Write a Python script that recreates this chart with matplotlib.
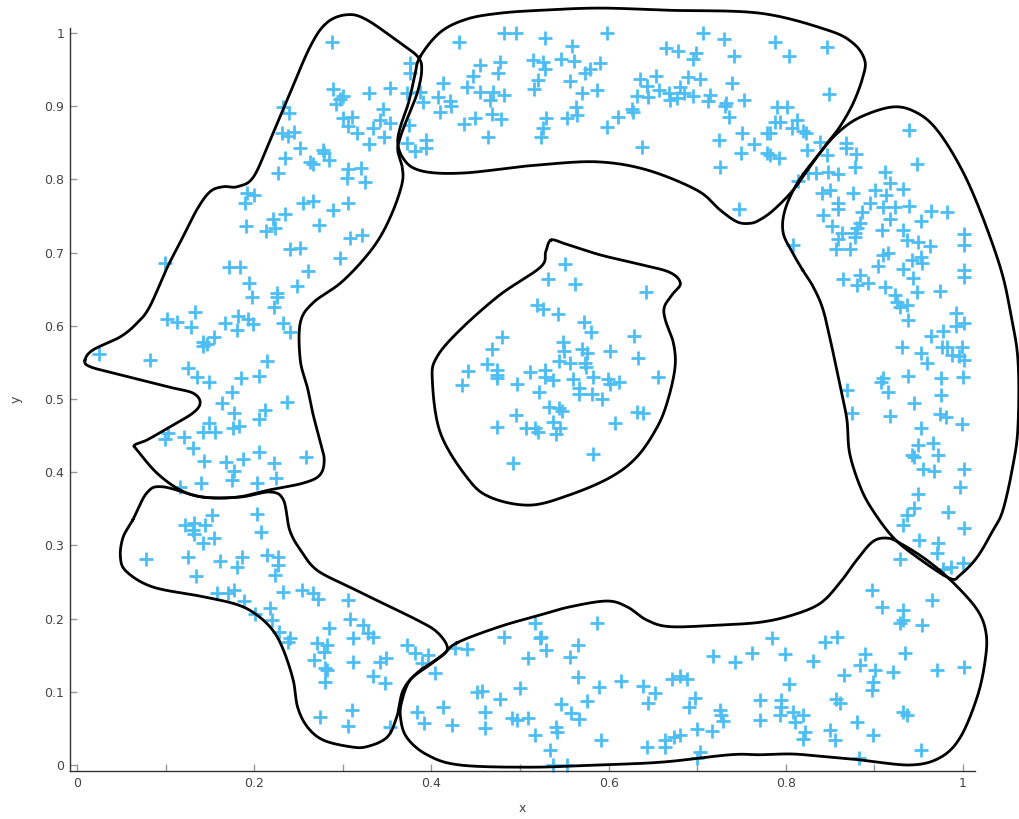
import numpy as np
import matplotlib
matplotlib.use("Agg")
import matplotlib.pyplot as plt

# ---- scatter points (data units) ----
pts_nw = [
    (0.233, 0.899), (0.239, 0.891), (0.231, 0.863), (0.238, 0.859), (0.245, 0.865),
    (0.252, 0.843), (0.235, 0.829), (0.227, 0.809), (0.192, 0.781), (0.200, 0.779),
    (0.190, 0.768), (0.221, 0.746), (0.235, 0.753), (0.223, 0.734), (0.213, 0.730),
    (0.191, 0.736), (0.255, 0.768), (0.240, 0.705), (0.252, 0.706), (0.099, 0.686),
    (0.172, 0.680), (0.184, 0.680), (0.263, 0.824), (0.288, 0.988), (0.376, 0.959),
    (0.376, 0.945), (0.289, 0.923), (0.300, 0.914), (0.297, 0.910), (0.292, 0.903),
    (0.330, 0.918), (0.353, 0.925), (0.345, 0.896), (0.300, 0.884), (0.310, 0.885),
    (0.306, 0.873), (0.342, 0.881), (0.334, 0.870), (0.353, 0.877), (0.316, 0.863),
    (0.347, 0.858), (0.330, 0.848), (0.375, 0.874), (0.372, 0.850), (0.381, 0.839),
    (0.394, 0.854), (0.394, 0.843), (0.278, 0.840), (0.279, 0.836), (0.284, 0.826),
    (0.266, 0.821), (0.306, 0.814), (0.321, 0.816), (0.305, 0.802), (0.325, 0.796),
    (0.266, 0.770), (0.306, 0.768), (0.289, 0.758), (0.273, 0.738), (0.308, 0.720),
    (0.322, 0.724), (0.297, 0.693), (0.372, 0.918),
]
pts_w = [
    (0.194, 0.658), (0.198, 0.639), (0.226, 0.645), (0.226, 0.639), (0.222, 0.626),
    (0.248, 0.654), (0.261, 0.675), (0.133, 0.619), (0.102, 0.609), (0.113, 0.605),
    (0.129, 0.598), (0.167, 0.604), (0.182, 0.613), (0.193, 0.609), (0.199, 0.602),
    (0.181, 0.594), (0.155, 0.585), (0.142, 0.578), (0.142, 0.572), (0.147, 0.575),
    (0.233, 0.604), (0.240, 0.592), (0.025, 0.561), (0.082, 0.553), (0.125, 0.542),
    (0.135, 0.530), (0.149, 0.523), (0.185, 0.529), (0.205, 0.531), (0.214, 0.552),
    (0.175, 0.510), (0.164, 0.495), (0.177, 0.481), (0.237, 0.496), (0.212, 0.485),
    (0.205, 0.473), (0.149, 0.467), (0.142, 0.455), (0.156, 0.455), (0.176, 0.460),
    (0.183, 0.463), (0.103, 0.454), (0.099, 0.445), (0.121, 0.448), (0.131, 0.433),
    (0.143, 0.415), (0.168, 0.414), (0.177, 0.402), (0.175, 0.389), (0.187, 0.418),
    (0.205, 0.428), (0.222, 0.413), (0.225, 0.392), (0.203, 0.385), (0.140, 0.385),
    (0.116, 0.380), (0.258, 0.421),
]
pts_n = [
    (0.431, 0.988), (0.482, 1.000), (0.496, 1.000), (0.455, 0.956), (0.447, 0.941),
    (0.440, 0.926), (0.477, 0.960), (0.475, 0.945), (0.413, 0.932), (0.387, 0.919),
    (0.391, 0.906), (0.407, 0.913), (0.421, 0.907), (0.422, 0.900), (0.410, 0.892),
    (0.455, 0.919), (0.470, 0.919), (0.466, 0.908), (0.482, 0.915), (0.468, 0.889),
    (0.479, 0.882), (0.449, 0.884), (0.437, 0.876), (0.464, 0.858),
    (0.528, 0.993), (0.598, 1.000), (0.559, 0.982), (0.707, 1.000), (0.730, 0.992),
    (0.515, 0.963), (0.526, 0.960), (0.528, 0.951), (0.546, 0.964), (0.561, 0.962),
    (0.573, 0.945), (0.579, 0.951), (0.590, 0.959), (0.520, 0.936), (0.516, 0.923),
    (0.556, 0.934), (0.570, 0.918), (0.587, 0.922), (0.665, 0.979), (0.678, 0.975),
    (0.699, 0.973), (0.695, 0.964), (0.742, 0.969), (0.635, 0.937), (0.643, 0.928),
    (0.654, 0.941), (0.632, 0.914), (0.645, 0.913), (0.657, 0.922), (0.668, 0.918),
    (0.669, 0.908), (0.677, 0.911), (0.681, 0.926), (0.685, 0.918), (0.695, 0.914),
    (0.690, 0.940), (0.703, 0.937), (0.714, 0.915), (0.712, 0.907), (0.733, 0.904),
    (0.731, 0.900), (0.739, 0.932), (0.753, 0.908), (0.736, 0.885), (0.626, 0.896),
    (0.628, 0.892), (0.611, 0.885), (0.598, 0.872), (0.563, 0.899), (0.564, 0.888),
    (0.553, 0.884), (0.529, 0.884), (0.526, 0.870), (0.524, 0.858), (0.638, 0.844),
    (0.725, 0.854), (0.726, 0.817), (0.751, 0.863), (0.764, 0.848), (0.749, 0.836),
    (0.747, 0.760),
]
pts_ne = [
    (0.788, 0.988), (0.804, 0.969), (0.847, 0.981), (0.849, 0.917), (0.790, 0.899),
    (0.801, 0.899), (0.788, 0.878), (0.793, 0.878), (0.813, 0.881), (0.807, 0.870),
    (0.779, 0.863), (0.782, 0.863), (0.819, 0.866), (0.823, 0.863), (0.779, 0.836),
    (0.782, 0.833), (0.792, 0.829), (0.824, 0.840), (0.839, 0.851), (0.847, 0.833),
    (0.868, 0.850), (0.868, 0.843), (0.879, 0.835), (0.878, 0.817), (0.848, 0.810),
    (0.859, 0.807), (0.825, 0.809), (0.814, 0.798), (0.834, 0.809), (0.912, 0.810),
    (0.918, 0.795), (0.939, 0.867), (0.948, 0.821), (0.841, 0.781), (0.850, 0.785),
    (0.876, 0.781), (0.901, 0.785), (0.913, 0.779), (0.932, 0.787), (0.859, 0.768),
    (0.859, 0.760), (0.895, 0.768), (0.886, 0.755), (0.884, 0.740), (0.880, 0.734),
    (0.910, 0.762), (0.923, 0.762), (0.939, 0.764), (0.964, 0.757), (0.982, 0.755),
    (0.842, 0.751), (0.918, 0.746), (0.952, 0.743), (0.852, 0.736), (0.863, 0.727),
    (0.859, 0.719), (0.878, 0.727), (0.878, 0.721), (0.909, 0.731), (0.932, 0.731),
    (0.937, 0.717), (0.949, 0.714), (0.963, 0.709), (1.001, 0.725), (1.001, 0.710),
    (0.808, 0.710), (0.857, 0.705), (0.872, 0.705), (0.910, 0.697), (0.915, 0.699),
    (0.952, 0.694), (0.942, 0.690), (0.954, 0.686), (0.904, 0.682),
]
pts_e = [
    (0.865, 0.664), (0.884, 0.669), (0.880, 0.656), (0.893, 0.658), (0.932, 0.678),
    (0.944, 0.665), (1.001, 0.676), (1.001, 0.667), (0.912, 0.653), (0.948, 0.646),
    (0.974, 0.648), (0.923, 0.642), (0.926, 0.633), (0.929, 0.626), (0.937, 0.628),
    (0.938, 0.608), (0.992, 0.617), (0.992, 0.600), (1.001, 0.604), (0.977, 0.593),
    (0.964, 0.586), (0.931, 0.571), (0.952, 0.563), (0.959, 0.549), (0.976, 0.571),
    (0.982, 0.571), (0.988, 0.560), (0.999, 0.571), (0.996, 0.559), (1.001, 0.553),
    (0.938, 0.531), (0.975, 0.529), (1.000, 0.530), (0.910, 0.529), (0.907, 0.523),
    (0.915, 0.510), (0.869, 0.512), (0.975, 0.505), (0.945, 0.495), (0.875, 0.481),
    (0.918, 0.477), (0.974, 0.480), (0.981, 0.475), (0.999, 0.466), (0.952, 0.460),
    (0.966, 0.440), (0.949, 0.437), (0.942, 0.423), (0.945, 0.421), (0.972, 0.423),
    (0.955, 0.404), (0.967, 0.402), (1.001, 0.404), (0.997, 0.380), (0.949, 0.370),
    (0.945, 0.351), (0.937, 0.342), (0.983, 0.346), (1.001, 0.324), (0.932, 0.328),
    (0.950, 0.307), (0.972, 0.303), (0.971, 0.290), (0.929, 0.281), (1.000, 0.276),
    (0.986, 0.270), (0.977, 0.268),
]
pts_se = [
    (0.771, 0.089), (0.771, 0.061), (0.784, 0.173), (0.799, 0.152), (0.804, 0.111),
    (0.795, 0.089), (0.795, 0.079), (0.793, 0.068), (0.808, 0.072), (0.810, 0.059),
    (0.819, 0.068), (0.822, 0.045), (0.819, 0.036), (0.831, 0.142), (0.844, 0.168),
    (0.858, 0.175), (0.857, 0.090), (0.861, 0.085), (0.850, 0.048), (0.855, 0.034),
    (0.866, 0.123), (0.880, 0.059), (0.883, 0.010), (0.884, 0.137), (0.889, 0.152),
    (0.901, 0.130), (0.898, 0.113), (0.897, 0.102), (0.898, 0.041), (0.921, 0.127),
    (0.935, 0.153), (0.897, 0.239), (0.909, 0.216), (0.932, 0.212), (0.932, 0.198),
    (0.929, 0.194), (0.954, 0.191), (0.965, 0.225), (0.932, 0.072), (0.937, 0.068),
    (0.952, 0.020), (0.971, 0.130), (1.001, 0.134),
]
pts_s = [
    (0.587, 0.194), (0.524, 0.175), (0.529, 0.157), (0.565, 0.164), (0.556, 0.148),
    (0.565, 0.120), (0.589, 0.107), (0.614, 0.115), (0.639, 0.108), (0.652, 0.098),
    (0.644, 0.085), (0.672, 0.117), (0.680, 0.121), (0.688, 0.118), (0.718, 0.149),
    (0.743, 0.141), (0.762, 0.153), (0.546, 0.083), (0.576, 0.087), (0.558, 0.071),
    (0.567, 0.063), (0.541, 0.052), (0.542, 0.045), (0.534, 0.020), (0.537, 0.000),
    (0.553, 0.000), (0.591, 0.034), (0.698, 0.092), (0.691, 0.079), (0.726, 0.075),
    (0.727, 0.068), (0.729, 0.060), (0.717, 0.046), (0.700, 0.049), (0.681, 0.041),
    (0.674, 0.038), (0.664, 0.034), (0.664, 0.025), (0.643, 0.025), (0.703, 0.018),
    (0.700, 0.010),
    (0.427, 0.160), (0.440, 0.158), (0.482, 0.175), (0.517, 0.194), (0.509, 0.146),
    (0.451, 0.100), (0.457, 0.101), (0.500, 0.105), (0.477, 0.090), (0.460, 0.072),
    (0.460, 0.051), (0.491, 0.064), (0.497, 0.061), (0.509, 0.064), (0.517, 0.041),
    (0.523, 0.173), (0.413, 0.079), (0.423, 0.055), (0.384, 0.072), (0.392, 0.057),
]
pts_sw = [
    (0.254, 0.239), (0.266, 0.235), (0.272, 0.227), (0.306, 0.225), (0.284, 0.187),
    (0.308, 0.199), (0.323, 0.191), (0.328, 0.180), (0.334, 0.175), (0.312, 0.173),
    (0.271, 0.167), (0.282, 0.164), (0.279, 0.154), (0.268, 0.143), (0.280, 0.133),
    (0.282, 0.130), (0.312, 0.141), (0.342, 0.141), (0.349, 0.146), (0.280, 0.113),
    (0.334, 0.122), (0.348, 0.112), (0.372, 0.164), (0.381, 0.153), (0.396, 0.150),
    (0.389, 0.139), (0.404, 0.126), (0.310, 0.075), (0.274, 0.066), (0.306, 0.053),
    (0.353, 0.052),
    (0.152, 0.342), (0.203, 0.343), (0.122, 0.328), (0.132, 0.331), (0.144, 0.328),
    (0.131, 0.321), (0.132, 0.316), (0.155, 0.310), (0.142, 0.303), (0.208, 0.318),
    (0.078, 0.281), (0.125, 0.284), (0.161, 0.279), (0.186, 0.284), (0.181, 0.270),
    (0.214, 0.287), (0.227, 0.284), (0.227, 0.273), (0.223, 0.260), (0.134, 0.258),
    (0.158, 0.235), (0.170, 0.235), (0.177, 0.239), (0.188, 0.224), (0.218, 0.214),
    (0.220, 0.198), (0.201, 0.206), (0.233, 0.236), (0.228, 0.182), (0.238, 0.168),
    (0.240, 0.173),
]
pts_center = [
    (0.480, 0.585), (0.468, 0.568), (0.463, 0.548), (0.441, 0.538), (0.435, 0.519),
    (0.474, 0.540), (0.474, 0.533), (0.474, 0.529), (0.511, 0.537), (0.497, 0.520),
    (0.521, 0.510), (0.495, 0.478), (0.474, 0.462), (0.507, 0.460), (0.517, 0.460),
    (0.520, 0.455), (0.492, 0.413), (0.551, 0.684), (0.532, 0.664), (0.562, 0.657),
    (0.642, 0.646), (0.519, 0.628), (0.526, 0.623), (0.543, 0.616), (0.572, 0.605),
    (0.580, 0.592), (0.629, 0.586), (0.549, 0.578), (0.550, 0.566), (0.570, 0.568),
    (0.576, 0.563), (0.602, 0.566), (0.633, 0.556), (0.544, 0.552), (0.556, 0.549),
    (0.573, 0.549), (0.574, 0.544), (0.528, 0.540), (0.528, 0.530), (0.537, 0.526),
    (0.560, 0.527), (0.582, 0.530), (0.599, 0.527), (0.602, 0.520), (0.612, 0.523),
    (0.656, 0.530), (0.567, 0.515), (0.567, 0.507), (0.581, 0.507), (0.593, 0.500),
    (0.533, 0.489), (0.544, 0.488), (0.547, 0.484), (0.537, 0.469), (0.545, 0.460),
    (0.541, 0.452), (0.607, 0.467), (0.632, 0.482), (0.639, 0.481), (0.582, 0.425),
]

# ---- boundary outlines (control points, closed) ----
ring_nw = [
    (0.009, 0.553), (0.018, 0.567), (0.049, 0.585), (0.068, 0.604), (0.082, 0.626),
    (0.102, 0.680), (0.116, 0.713), (0.135, 0.758), (0.150, 0.783), (0.165, 0.790),
    (0.181, 0.790), (0.199, 0.803), (0.218, 0.854), (0.237, 0.908), (0.263, 0.981),
    (0.282, 1.014), (0.305, 1.025), (0.327, 1.018), (0.365, 0.986), (0.385, 0.967),
    (0.389, 0.949), (0.384, 0.918), (0.372, 0.881), (0.365, 0.858), (0.362, 0.840),
    (0.367, 0.817), (0.367, 0.795), (0.357, 0.758), (0.342, 0.721), (0.323, 0.690),
    (0.297, 0.658), (0.266, 0.631), (0.252, 0.604), (0.252, 0.553), (0.260, 0.516),
    (0.266, 0.481), (0.274, 0.444), (0.279, 0.417), (0.274, 0.396), (0.255, 0.385),
    (0.218, 0.376), (0.181, 0.366), (0.142, 0.366), (0.116, 0.376), (0.090, 0.399),
    (0.068, 0.430), (0.065, 0.437), (0.079, 0.444), (0.105, 0.462), (0.131, 0.481),
    (0.139, 0.495), (0.131, 0.508), (0.105, 0.516), (0.049, 0.533), (0.015, 0.544),
]
ring_n = [
    (0.387, 0.967), (0.410, 1.001), (0.440, 1.019), (0.477, 1.027), (0.523, 1.031),
    (0.590, 1.034), (0.669, 1.031), (0.771, 1.027), (0.847, 1.004), (0.876, 0.986),
    (0.889, 0.963), (0.887, 0.940), (0.876, 0.904), (0.861, 0.872), (0.847, 0.850),
    (0.827, 0.817), (0.808, 0.785), (0.786, 0.758), (0.771, 0.745), (0.760, 0.740),
    (0.745, 0.742), (0.726, 0.758), (0.700, 0.785), (0.643, 0.813), (0.587, 0.824),
    (0.523, 0.820), (0.492, 0.816), (0.440, 0.809), (0.402, 0.809), (0.379, 0.816),
    (0.367, 0.831), (0.362, 0.850), (0.365, 0.872), (0.374, 0.904), (0.381, 0.940),
]
ring_e = [
    (0.819, 0.676), (0.808, 0.699), (0.797, 0.727), (0.799, 0.758), (0.813, 0.795),
    (0.835, 0.831), (0.858, 0.863), (0.884, 0.885), (0.921, 0.899), (0.948, 0.891),
    (0.971, 0.867), (0.997, 0.817), (1.019, 0.758), (1.042, 0.680), (1.053, 0.622),
    (1.062, 0.553), (1.062, 0.462), (1.056, 0.407), (1.045, 0.348), (1.034, 0.321),
    (1.016, 0.284), (0.997, 0.260), (0.985, 0.255), (0.948, 0.284), (0.921, 0.311),
    (0.898, 0.348), (0.884, 0.380), (0.872, 0.426), (0.869, 0.471), (0.863, 0.508),
    (0.852, 0.571), (0.842, 0.622), (0.831, 0.653),
]
ring_se = [
    (0.429, 0.167), (0.477, 0.189), (0.523, 0.205), (0.556, 0.216), (0.598, 0.224),
    (0.621, 0.216), (0.643, 0.198), (0.669, 0.189), (0.722, 0.191), (0.771, 0.195),
    (0.808, 0.205), (0.839, 0.221), (0.861, 0.249), (0.880, 0.280), (0.898, 0.305),
    (0.914, 0.310), (0.929, 0.303), (0.959, 0.280), (0.989, 0.249), (1.016, 0.212),
    (1.026, 0.180), (1.025, 0.143), (1.016, 0.093), (0.997, 0.038), (0.974, 0.010),
    (0.940, 0.000), (0.884, 0.007), (0.847, 0.011), (0.808, 0.015), (0.771, 0.014),
    (0.737, 0.014), (0.661, 0.004), (0.587, 0.000), (0.511, -0.003), (0.432, 0.000),
    (0.395, 0.014), (0.372, 0.038), (0.365, 0.066), (0.367, 0.089), (0.376, 0.116),
    (0.395, 0.134), (0.413, 0.150),
]
ring_sw = [
    (0.063, 0.335), (0.079, 0.372), (0.097, 0.380), (0.142, 0.366), (0.184, 0.366),
    (0.218, 0.373), (0.233, 0.362), (0.240, 0.321), (0.252, 0.294), (0.271, 0.266),
    (0.308, 0.243), (0.345, 0.221), (0.384, 0.198), (0.406, 0.182), (0.418, 0.161),
    (0.410, 0.148), (0.384, 0.126), (0.368, 0.102), (0.361, 0.066), (0.350, 0.038),
    (0.327, 0.025), (0.308, 0.025), (0.278, 0.034), (0.260, 0.052), (0.249, 0.079),
    (0.244, 0.116), (0.233, 0.157), (0.221, 0.184), (0.203, 0.205), (0.181, 0.219),
    (0.142, 0.230), (0.086, 0.243), (0.056, 0.264), (0.049, 0.284), (0.052, 0.311),
]
ring_center = [
    (0.535, 0.717), (0.551, 0.712), (0.590, 0.697), (0.635, 0.684), (0.669, 0.673),
    (0.681, 0.658), (0.672, 0.643), (0.663, 0.626), (0.664, 0.608), (0.673, 0.577),
    (0.675, 0.544), (0.667, 0.499), (0.655, 0.462), (0.632, 0.421), (0.602, 0.393),
    (0.556, 0.369), (0.511, 0.355), (0.466, 0.366), (0.440, 0.393), (0.410, 0.454),
    (0.401, 0.526), (0.406, 0.557), (0.432, 0.594), (0.477, 0.642), (0.523, 0.680),
    (0.529, 0.701),
]


def closed_curve(pts, n=24):
    # closed Catmull-Rom through the outline control points
    p = np.asarray(pts, dtype=float)
    m = len(p)
    t = np.linspace(0, 1, n, endpoint=False)[:, None]
    segs = []
    for i in range(m):
        p0, p1, p2, p3 = p[i - 1], p[i], p[(i + 1) % m], p[(i + 2) % m]
        segs.append(0.5 * (2 * p1 + (p2 - p0) * t
                           + (2 * p0 - 5 * p1 + 4 * p2 - p3) * t ** 2
                           + (3 * p1 - p0 - 3 * p2 + p3) * t ** 3))
    c = np.vstack(segs)
    return np.vstack([c, c[:1]])


fig = plt.figure(figsize=(10.2, 8.19), dpi=100)
ax = fig.add_axes([70 / 1020, 48 / 819, 905 / 1020, 743 / 819])

for ring in [ring_nw, ring_n, ring_e, ring_se, ring_sw, ring_center]:
    c = closed_curve(ring)
    ax.plot(c[:, 0], c[:, 1], color='black', lw=2.0, clip_on=False, zorder=3)

pts = np.array(pts_nw + pts_w + pts_n + pts_ne + pts_e + pts_se + pts_s + pts_sw + pts_center)
ax.scatter(pts[:, 0], pts[:, 1], marker='+', s=115, linewidths=2.0,
           color='#4dbef4', zorder=2, clip_on=False)

ax.set_xlim(-0.0079, 1.0135)
ax.set_ylim(-0.0082, 1.0068)
ax.set_xticks([0, 0.2, 0.4, 0.6, 0.8, 1])
ax.set_xticklabels(['0', '0.2', '0.4', '0.6', '0.8', '1'])
ax.set_xticks([0.1, 0.3, 0.5, 0.7, 0.9], minor=True)
yt = [i / 10 for i in range(11)]
ax.set_yticks(yt)
ax.set_yticklabels(['0'] + ['%.1f' % v for v in yt[1:-1]] + ['1'])
ax.tick_params(axis='both', which='both', direction='in', length=5, width=1,
               color='#999999', labelsize=9, labelcolor='#444444', pad=4)

for side in ['top', 'right']:
    ax.spines[side].set_visible(False)
for side in ['left', 'bottom']:
    ax.spines[side].set_color('#333333')
    ax.spines[side].set_linewidth(1.0)

ax.set_xlabel('x', fontsize=9, color='#444444', labelpad=9)
ax.set_ylabel('y', fontsize=9, color='#444444', labelpad=16)

fig.savefig('out.png', dpi=100)
